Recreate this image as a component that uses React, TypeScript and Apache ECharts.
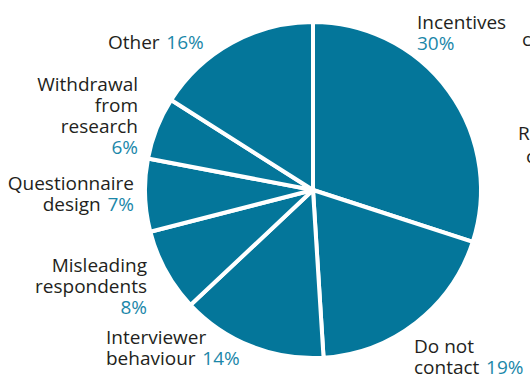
import React, { useEffect, useRef } from "react";
import * as echarts from "echarts";

const categories = [
  "Incentives",
  "Do not\ncontact",
  "Interviewer\nbehaviour",
  "Misleading\nrespondents",
  "Questionnaire\ndesign",
  "Withdrawal\nfrom\nresearch",
  "Other",
];
const values = [30, 19, 14, 8, 7, 6, 16];

// label placement (style, not data)
const labelSpots = [
  { x: 417, y: 11, align: "left", sep: "\n" },
  { x: 414, y: 335, align: "left", sep: "  " },
  { x: 106, y: 326, align: "left", sep: "  " },
  { x: 147, y: 254, align: "right", sep: "\n" },
  { x: 134, y: 172, align: "right", sep: "  " },
  { x: 138, y: 73, align: "right", sep: "\n" },
  { x: 108, y: 31, align: "left", sep: "  " },
];

const FONT = "'Open Sans', 'Noto Sans', sans-serif";
const FS = 19;
const SLICE = "#04769a";
const PCT = "#1b87a9";
const TXT = "#231f20";

export default function App() {
  const ref = useRef<HTMLDivElement>(null);
  useEffect(() => {
    if (!ref.current) return;
    const chart = echarts.init(ref.current, null, { renderer: "svg" });
    chart.setOption({
      animation: false,
      backgroundColor: "#ffffff",
      graphic: [
        { type: "text", left: 522, top: 29, style: { text: "c", font: `${FS}px ${FONT}`, fill: TXT } },
        { type: "text", left: 518, top: 123, style: { text: "R", font: `${FS}px ${FONT}`, fill: TXT } },
        { type: "text", left: 526, top: 146, style: { text: "c", font: `${FS}px ${FONT}`, fill: TXT } },
      ],
      series: [
        {
          type: "pie",
          center: [313, 190],
          radius: [0, 168],
          startAngle: 90,
          clockwise: true,
          avoidLabelOverlap: false,
          itemStyle: { color: SLICE, borderColor: "#ffffff", borderWidth: 4 },
          emphasis: { disabled: true },
          labelLine: { show: false },
          label: {
            show: true,
            position: "outside",
            formatter: (p: any) => {
              const spot = labelSpots[p.dataIndex];
              const lines = String(p.name)
                .split("\n")
                .map((l: string) => `{n|${l}}`)
                .join("\n");
              return `${lines}${spot.sep}{p|${p.value}%}`;
            },
            rich: {
              n: { fontFamily: FONT, fontSize: FS, color: TXT, lineHeight: 21 },
              p: { fontFamily: FONT, fontSize: FS, color: PCT, lineHeight: 21 },
            },
          },
          labelLayout: (params: any) => {
            const spot = labelSpots[params.dataIndex];
            return {
              x: spot.x,
              y: spot.y,
              align: spot.align,
              verticalAlign: "top",
              hideOverlap: false,
            };
          },
          data: categories.map((c, i) => ({ name: c, value: values[i] })),
        },
      ],
    });
    return () => chart.dispose();
  }, []);
  return (
    <div
      ref={ref}
      style={{ position: "fixed", left: 0, top: 0, width: 530, height: 375 }}
    />
  );
}
